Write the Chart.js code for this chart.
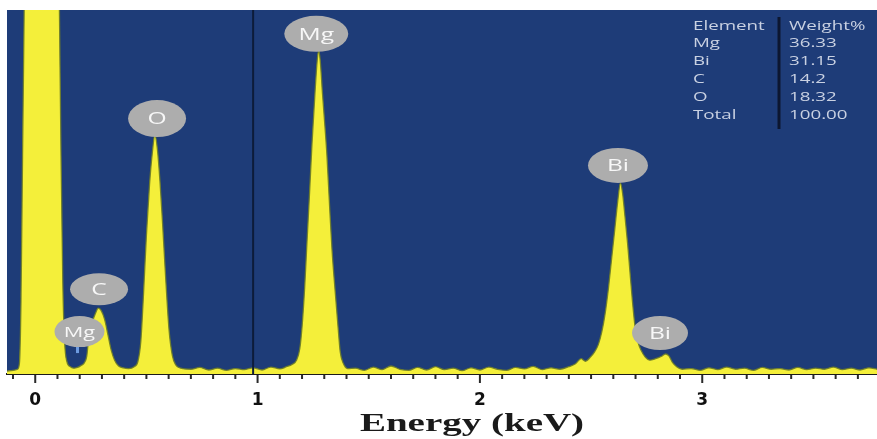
<!DOCTYPE html>
<html><head><meta charset="utf-8">
<script src="https://cdn.jsdelivr.net/npm/chart.js@4.4.1/dist/chart.umd.min.js"></script>
<style>html,body{margin:0;padding:0;background:#fff;overflow:hidden}#wrap{width:877px;height:439px;position:relative}</style>
</head><body><div id="wrap"><canvas id="c" width="877" height="439"></canvas></div>
<script>
// ---- Spectrum data ----
const energyKeV = [
 -0.127,-0.10,-0.08,-0.071,-0.064,-0.057,-0.048,-0.035,0.036,0.095,0.107,0.116,0.124,0.132,0.142,0.158,0.175,0.19,0.205,0.220,
 0.232,0.242,0.258,0.272,0.283,0.296,0.312,0.328,0.342,0.357,0.375,0.395,0.42,0.445,0.462,0.475,0.487,0.500,0.514,0.527,
 0.538,0.549,0.561,0.574,0.588,0.602,0.617,0.632,0.655,0.70,0.74,0.78,0.82,0.86,0.90,0.94,0.98,1.02,1.06,1.10,
 1.13,1.155,1.175,1.19,1.200,1.212,1.222,1.234,1.245,1.258,1.268,1.275,1.282,1.292,1.303,1.312,1.324,1.335,1.350,1.362,
 1.372,1.385,1.405,1.44,1.48,1.52,1.56,1.60,1.64,1.68,1.72,1.76,1.80,1.84,1.88,1.92,1.96,2.00,2.04,2.08,
 2.12,2.16,2.20,2.24,2.28,2.32,2.36,2.40,2.43,2.455,2.475,2.495,2.515,2.532,2.548,2.563,2.578,2.593,2.607,2.620,
 2.632,2.642,2.653,2.664,2.675,2.686,2.698,2.710,2.725,2.743,2.765,2.79,2.815,2.835,2.85,2.866,2.885,2.91,2.95,2.99,
 3.03,3.07,3.11,3.15,3.19,3.23,3.27,3.31,3.35,3.39,3.43,3.47,3.51,3.55,3.59,3.63,3.67,3.71,3.75,3.786
];
const counts = [
 0.8,1.0,1.3,3,20,60,110,200,400,200,110,60,25,9,3.5,2,1.6,1.8,2.3,3,
 5,11,14.5,16.8,18.1,17.5,15,10.5,6.5,3.8,2.2,1.7,1.5,2.0,3.5,9,22,38,52,61,
 65.7,62,53,40,25,12,5,2.5,1.6,1.3,1.8,1.1,1.6,1.0,1.5,1.2,1.7,1.1,1.9,1.4,
 2.0,2.6,3.8,7,12.9,24,36,50,63.5,77,86,89,86,77,68,60,46,34,22,12.9,
 6,3,1.5,1.6,1.0,1.9,1.2,2.2,1.3,1.0,1.8,1.1,2.0,1.2,1.6,0.9,1.7,1.1,1.9,1.3,
 1.0,1.8,1.4,2.1,1.2,1.7,1.3,2.0,2.8,4.2,3.5,4.5,6,8,11.5,16.5,23.5,32,40,47.5,
 52.5,49.5,43,36,28,20,12.9,9,6.5,4.7,3.8,4.2,4.8,5.5,5.0,3.2,2.0,1.3,1.5,1.0,
 1.7,1.2,1.9,1.3,1.6,1.0,1.8,1.3,1.5,1.1,1.8,1.2,1.6,1.3,1.9,1.2,1.6,1.1,1.7,1.3
];
// ---- Peak labels ----
const peakNames  = ['Mg','C','O','Mg','Bi','Bi'];
const peakKeV    = [0.199,0.287,0.548,1.264,2.621,2.81];
const peakCounts = [7.4,18.9,65.1,88.5,52.5,6.6];
// ---- Composition table ----
const tableHeader   = ['Element','Weight%'];
const tableElements = ['Mg','Bi','C','O','Total'];
const tableWeights  = ['36.33','31.15','14.2','18.32','100.00'];
// ---- Axis ----
const xMin = -0.127, xMax = 3.786, xStep = 0.1;
const xTickLabels = ['0','1','2','3'];
const xAxisTitle = 'Energy (keV)';
const markerKeV = 0.98;

const BLUE = '#1e3c78';
const YELLOW = '#f4ef3a';
const STRETCH = 1.5;

function stretchText(ctx, text, x, y, sx, align) {
  ctx.save(); ctx.translate(x, y); ctx.scale(sx, 1);
  ctx.textAlign = align; ctx.fillText(text, 0, 0); ctx.restore();
}

const bgPlugin = {
  id: 'bg',
  beforeDraw(chart) {
    const {ctx, chartArea: a} = chart;
    ctx.save(); ctx.fillStyle = BLUE;
    ctx.fillRect(a.left, a.top, a.right - a.left, a.bottom - a.top);
    ctx.restore();
  }
};

const overlayPlugin = {
  id: 'overlay',
  afterDatasetsDraw(chart) {
    const {ctx, chartArea: a, scales: {x, y}} = chart;
    ctx.save();
    // marker line
    const mx = x.getPixelForValue(markerKeV);
    ctx.strokeStyle = '#0d1c3a'; ctx.lineWidth = 2;
    ctx.beginPath(); ctx.moveTo(mx, a.top); ctx.lineTo(mx, a.bottom); ctx.stroke();
    // peak bubbles
    const bubbleSize = [[25,15.5],[29,16],[29,18.5],[32,18],[30,17.5],[28,17]];
    peakNames.forEach((n, i) => {
      const px = x.getPixelForValue(peakKeV[i]);
      const py = y.getPixelForValue(peakCounts[i]);
      const [rx, ry] = bubbleSize[i];
      if (i === 0) {
        ctx.strokeStyle = '#6d9be0'; ctx.lineWidth = 3;
        ctx.beginPath(); ctx.moveTo(px - 2, py - 2); ctx.lineTo(px - 2, py + 6); ctx.stroke();
      }
      ctx.fillStyle = '#adadad';
      ctx.beginPath(); ctx.ellipse(px, py - ry, rx, ry, 0, 0, Math.PI * 2); ctx.fill();
      ctx.fillStyle = '#f7f7f7';
      ctx.font = (i === 0 ? '15px' : '17px') + ' "Open Sans"';
      ctx.textBaseline = 'middle';
      stretchText(ctx, n, px, py - ry + 1, 1.45, 'center');
    });
    // table
    ctx.fillStyle = '#c9d1e2';
    ctx.font = '12.5px "Open Sans"';
    ctx.textBaseline = 'middle';
    const rows = [tableHeader].concat(tableElements.map((e, i) => [e, tableWeights[i]]));
    rows.forEach((r, i) => {
      const ty = 26 + i * 17.8;
      stretchText(ctx, r[0], 693, ty, STRETCH, 'left');
      stretchText(ctx, r[1], 789, ty, STRETCH, 'left');
    });
    ctx.strokeStyle = '#0c1630'; ctx.lineWidth = 3;
    ctx.beginPath(); ctx.moveTo(779, 17); ctx.lineTo(779, 129); ctx.stroke();
    ctx.restore();
  },
  afterDraw(chart) {
    const {ctx, chartArea: a, scales: {x}} = chart;
    ctx.save();
    // tick marks
    ctx.strokeStyle = '#2a2a2a'; ctx.lineWidth = 2;
    x.ticks.forEach(t => {
      const px = x.getPixelForValue(t.value);
      const major = Math.abs(t.value - Math.round(t.value)) < 1e-6;
      ctx.beginPath(); ctx.moveTo(px, a.bottom + 1); ctx.lineTo(px, a.bottom + (major ? 9 : 5)); ctx.stroke();
    });
    // axis title
    ctx.fillStyle = '#1a1a1a';
    ctx.font = 'bold 26px "Liberation Serif"';
    ctx.textBaseline = 'alphabetic';
    stretchText(ctx, xAxisTitle, 472, 431, STRETCH, 'center');
    ctx.restore();
  }
};

const points = energyKeV.map((e, i) => ({x: e, y: counts[i]}));

new Chart(document.getElementById('c'), {
  type: 'line',
  data: { datasets: [{
    data: points,
    fill: 'origin',
    backgroundColor: YELLOW,
    borderColor: 'rgba(110,125,40,0.9)',
    borderWidth: 1.3,
    pointRadius: 0,
    cubicInterpolationMode: 'monotone'
  }]},
  options: {
    responsive: false,
    devicePixelRatio: 1,
    animation: false,
    layout: { padding: { left: 7, top: 10, right: 0, bottom: 0 } },
    plugins: { legend: { display: false }, tooltip: { enabled: false } },
    scales: {
      x: {
        type: 'linear', min: xMin, max: xMax,
        afterFit(s) { s.height = 65; s.paddingLeft = 0; s.paddingRight = 0; },
        border: { display: true, color: '#1b1b1b', width: 2 },
        grid: { display: true, drawOnChartArea: false, drawTicks: false },
        ticks: {
          stepSize: xStep, includeBounds: false, autoSkip: false, maxRotation: 0,
          padding: 16, color: '#111',
          font: { family: '"DejaVu Sans"', weight: 'bold', size: 17 },
          callback(v) {
            const r = Math.round(v);
            return Math.abs(v - r) < 1e-6 && r >= 0 && r < xTickLabels.length ? xTickLabels[r] : '';
          }
        }
      },
      y: { display: false, min: 0, max: 100 }
    }
  },
  plugins: [bgPlugin, overlayPlugin]
});
</script>
</body></html>
